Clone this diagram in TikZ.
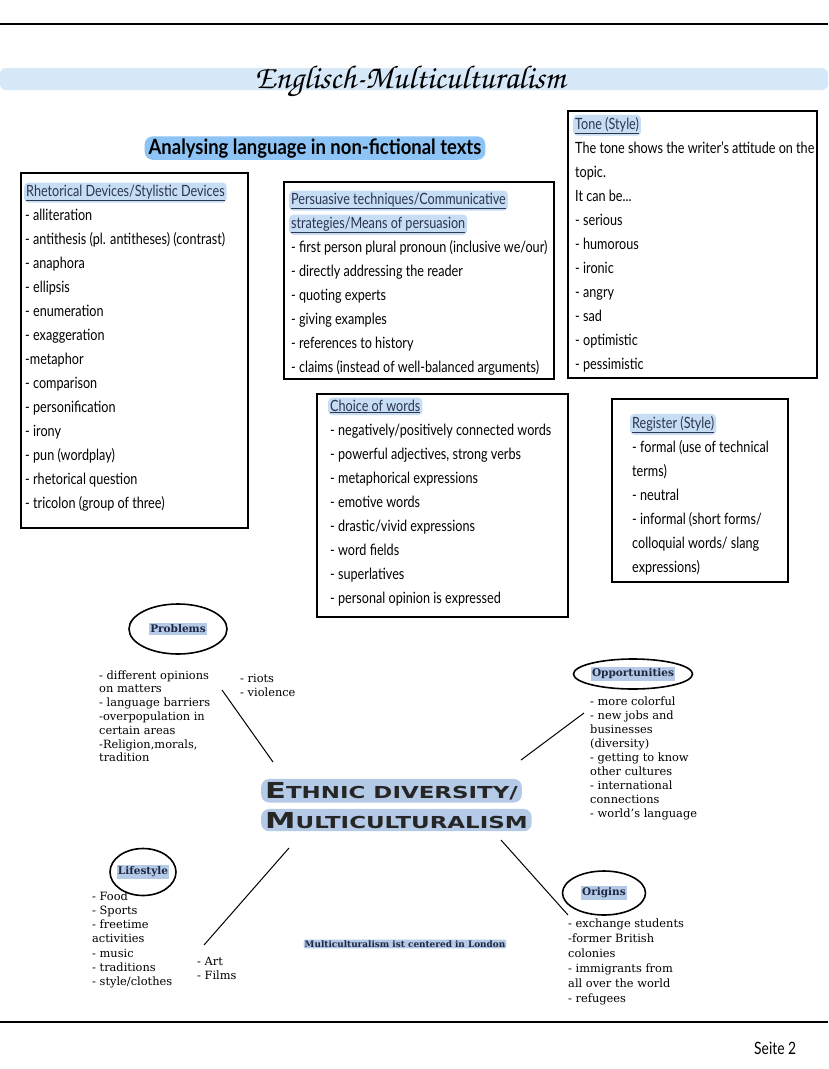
\documentclass[tikz,border=0pt]{standalone}
\usepackage[T1]{fontenc}
\usepackage{fontspec}
\usetikzlibrary{shapes.geometric}
\newfontfamily\hand[FakeStretch=0.815]{Lato}
\newfontfamily\handhead[FakeStretch=0.88]{Lato}
\newfontfamily\typew{DejaVu Serif}
\newfontfamily\copper[FakeStretch=1.39]{DejaVu Sans}
\newcommand\chanc{\fontencoding{T1}\fontfamily{pzc}\fontseries{mb}\fontshape{it}\selectfont}
\definecolor{bandblue}{HTML}{D7E8F8}
\definecolor{headblue}{HTML}{8EC4F5}
\definecolor{hdrblue}{HTML}{C6DDF4}
\definecolor{hdrtext}{HTML}{2B3550}
\definecolor{mmblue}{HTML}{B4CAE6}
\definecolor{mmtext}{HTML}{1E2640}
\newcommand\listlines[6]{\foreach \t [count=\i from 0] in {#6}{\node[#1] (#2\i) at (#3,{#4+#5*\i}) {\t};}}
\begin{document}
\begin{tikzpicture}[x=1pt,y=-1pt,
  box/.style={draw=black, line width=1.8pt, anchor=north west, inner sep=0pt},
  item/.style={font=\hand\fontsize{15.5}{17}\selectfont, anchor=base west, inner sep=0pt},
  hdr/.style={font=\hand\fontsize{15.5}{17}\selectfont, anchor=base west, fill=hdrblue, rounded corners=4pt, inner xsep=2pt, inner ysep=2pt, text=hdrtext},
  mmtxt/.style={font=\typew\fontsize{11.4}{13}\selectfont, anchor=base west, inner sep=0pt},
  cat/.style={draw=black, ellipse, line width=1.6pt, inner sep=0pt},
  catlab/.style={fill=mmblue, font=\typew\bfseries\fontsize{10.5}{12}\selectfont, text=mmtext, inner xsep=1pt, inner ysep=1.5pt},
  ctitle/.style={anchor=base west, fill=mmblue, rounded corners=8pt, font=\copper\bfseries\fontsize{16.5}{18}\selectfont, text=black!85, inner xsep=4pt, inner ysep=3pt},
  conn/.style={draw=black, line width=1pt},
  rule/.style={draw=black, line width=2.4pt}]
\useasboundingbox (0,0) rectangle (828,1069);
\fill[white] (0,0) rectangle (828,1069);
% rules and title band
\coordinate (tl) at (0,24); \coordinate (tr) at (828,24);
\draw[rule] (tl) -- (tr);
\coordinate (bl) at (0,1022); \coordinate (br) at (828,1022);
\draw[rule] (bl) -- (br);
\fill[bandblue, rounded corners=6pt] (0,68) rectangle (828,90);
\node[font=\chanc\fontsize{33}{36}\selectfont, anchor=base, inner sep=0pt] (title) at (410,88) {Englisch-Multiculturalism};
\node[fill=headblue, rounded corners=8pt, font=\handhead\bfseries\fontsize{21}{23}\selectfont, inner xsep=4pt, inner ysep=2pt, anchor=base] (analysing) at (315,154) {Analysing language in non-fictional texts};
% Rhetorical devices
\node[box, minimum width=227pt, minimum height=355pt] (rhetbox) at (20,172) {};
\node[hdr] (rhethd) at (24,196) {\underline{Rhetorical Devices/Stylistic Devices}};
\listlines{item}{rh}{25}{220}{24}{- alliteration, - antithesis (pl. antitheses) (contrast), - anaphora, - ellipsis, - enumeration, - exaggeration, -metaphor, - comparison, - personification, - irony, - pun (wordplay), - rhetorical question, - tricolon (group of three)}
% Persuasive techniques
\node[box, minimum width=270pt, minimum height=197pt] (persbox) at (283,181) {};
\node[hdr] (pershd1) at (289,204) {\underline{Persuasive techniques/Communicative}};
\node[hdr] (pershd2) at (289,228) {\underline{strategies/Means of persuasion}};
\listlines{item}{pe}{291}{252}{24}{- first person plural pronoun (inclusive we/our), - directly addressing the reader, - quoting experts, - giving examples, - references to history, - claims (instead of well-balanced arguments)}
% Tone
\node[box, minimum width=249pt, minimum height=267pt] (tonebox) at (567,110) {};
\node[hdr] (tonehd) at (573,129) {\underline{Tone (Style)}};
\listlines{item}{to}{575}{153}{24}{The tone shows the writer’s attitude on the, topic., {It can be.{}.{}.}, - serious, - humorous, - ironic, - angry, - sad, - optimistic, - pessimistic}
% Choice of words
\node[box, minimum width=251pt, minimum height=223pt] (choicebox) at (316,393) {};
\node[hdr] (choicehd) at (328,411) {\underline{Choice of words}};
\listlines{item}{ch}{330}{435}{24}{- negatively/positively connected words, {- powerful adjectives, strong verbs}, - metaphorical expressions, - emotive words, - drastic/vivid expressions, - word fields, - superlatives, - personal opinion is expressed}
% Register
\node[box, minimum width=176pt, minimum height=183pt] (regbox) at (611,398) {};
\node[hdr] (reghd) at (630,428) {\underline{Register (Style)}};
\listlines{item}{re}{632}{452}{24}{- formal (use of technical, terms), - neutral, - informal (short forms/, colloquial words/ slang, expressions)}
% Mind map centre
\node[ctitle] (et1) at (261,798) {{\fontsize{22}{22}\selectfont E}THNIC DIVERSITY/};
\node[ctitle] (et2) at (261,828) {{\fontsize{22}{22}\selectfont M}ULTICULTURALISM};
% Problems
\node[cat, minimum width=98pt, minimum height=50pt] (probE) at (178,629) {};
\node[catlab] (probL) at (178,629) {Problems};
\listlines{mmtxt}{pr}{99}{679}{13.8}{- different opinions, on matters, - language barriers, -overpopulation in, certain areas, {-Religion,morals,}, tradition}
\listlines{mmtxt}{ri}{240}{682}{14}{- riots, - violence}
\coordinate (pA) at (222,690); \coordinate (pB) at (273,762);
\draw[conn] (pA) -- (pB);
% Opportunities
\node[cat, minimum width=119pt, minimum height=30pt] (oppE) at (633,674) {};
\node[catlab] (oppL) at (633,674) {Opportunities};
\listlines{mmtxt}{op}{590}{705}{14}{- more colorful, - new jobs and, businesses, (diversity), - getting to know, other cultures, - international, connections, - world’s language}
\coordinate (oA) at (521,760); \coordinate (oB) at (584,713);
\draw[conn] (oA) -- (oB);
% Lifestyle
\node[cat, minimum width=66pt, minimum height=47pt] (lifeE) at (143,872) {};
\node[catlab] (lifeL) at (143,872) {Lifestyle};
\listlines{mmtxt}{li}{92}{900}{14.3}{- Food, - Sports, - freetime, activities, - music, - traditions, - style/clothes}
\listlines{mmtxt}{ar}{197}{965}{14}{- Art, - Films}
\coordinate (lA) at (289,848); \coordinate (lB) at (204,945);
\draw[conn] (lA) -- (lB);
% Origins
\node[cat, minimum width=83pt, minimum height=44pt] (origE) at (604,893) {};
\node[catlab] (origL) at (604,893) {Origins};
\listlines{mmtxt}{or}{568}{927}{15}{- exchange students, -former British, colonies, - immigrants from, all over the world, - refugees}
\coordinate (gA) at (501,840); \coordinate (gB) at (568,915);
\draw[conn] (gA) -- (gB);
% London note
\node[fill=mmblue, font=\typew\bfseries\fontsize{8.9}{10}\selectfont, text=mmtext, inner xsep=1pt, inner ysep=1pt, rounded corners=2pt] (london) at (405,944) {Multiculturalism ist centered in London};
% page number
\node[font=\hand\fontsize{17}{18}\selectfont, anchor=base west, inner sep=0pt] (seite) at (754,1054) {Seite 2};
\end{tikzpicture}
\end{document}
